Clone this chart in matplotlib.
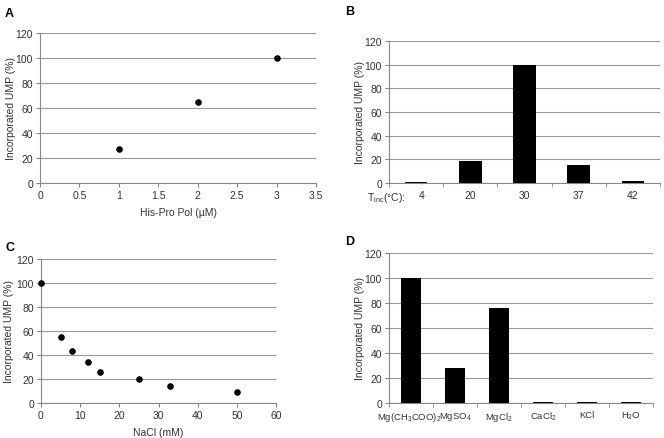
import numpy as np
import matplotlib
matplotlib.use('Agg')
import matplotlib.pyplot as plt
import matplotlib.transforms as mtransforms

plt.rcParams['font.family'] = ['Liberation Sans', 'DejaVu Sans']
plt.rcParams['font.size'] = 7.5
plt.rcParams['mathtext.fontset'] = 'custom'
plt.rcParams['mathtext.rm'] = 'Liberation Sans'

# Panel A
conc_a = [1, 2, 3]
ump_a = [27, 64.5, 100]
# Panel B
temps_b = ['4', '20', '30', '37', '42']
ump_b = [1, 19, 100, 15.5, 1.5]
# Panel C
nacl_c = [0, 5, 8, 12, 15, 25, 33, 50]
ump_c = [100, 55, 43, 34, 26, 20, 14.5, 9]
# Panel D
salts_d = [r'Mg(CH$_\mathrm{3}$COO)$_\mathrm{2}$', r'MgSO$_\mathrm{4}$', r'MgCl$_\mathrm{2}$',
           r'CaCl$_\mathrm{2}$', 'KCl', r'H$_\mathrm{2}$O']
ump_d = [100, 28, 76, 0.8, 0.8, 0.8]

W, H = 664, 439
fig = plt.figure(figsize=(W / 100, H / 100), dpi=100)
grey = '#888888'


def make_ax(l, r, t, b, ylab_x):
    ax = fig.add_axes([l / W, 1 - b / H, (r - l) / W, (b - t) / H])
    ax.set_ylim(0, 120)
    ax.set_yticks(range(0, 121, 20))
    ax.yaxis.grid(True, color='#999999', lw=0.8)
    ax.set_axisbelow(True)
    for s in ['top', 'right']:
        ax.spines[s].set_visible(False)
    for s in ['left', 'bottom']:
        ax.spines[s].set_color(grey)
        ax.spines[s].set_linewidth(0.8)
    ax.tick_params(colors=grey, labelcolor='#333333', length=3, width=0.8, pad=2)
    ax.set_ylabel('Incorporated UMP (%)', color='#333333', va='center')
    ax.yaxis.set_label_coords((ylab_x - l) / (r - l), 0.5)
    return ax


# A
ax = make_ax(40, 316, 34, 184, 11)
ax.scatter(conc_a, ump_a, s=14, color='black', zorder=3)
ax.set_xlim(0, 3.5)
ax.set_xticks(np.arange(0, 3.51, 0.5))
ax.set_xticklabels(['0', '0.5', '1', '1.5', '2', '2.5', '3', '3.5'])
ax.set_xlabel('His-Pro Pol (µM)', color='#333333', labelpad=5)

# B
ax = make_ax(389, 660, 42, 184, 360)
xb = np.arange(len(temps_b))
ax.bar(xb, ump_b, width=0.42, color='black', zorder=3)
ax.set_xlim(-0.5, len(temps_b) - 0.5)
ax.set_xticks(xb)
ax.set_xticklabels([''] + temps_b[1:])
ax.tick_params(axis='x', length=0, pad=5)
ax.set_xticks(np.arange(-0.5, len(temps_b), 1), minor=True)
ax.tick_params(axis='x', which='minor', length=3, color=grey)
ax.text(-0.55, -0.05, r'T$_\mathrm{inc}$(°C):', transform=ax.get_xaxis_transform(),
        ha='center', va='top', color='#333333')
ax.text(0.1, -0.05, temps_b[0], transform=ax.get_xaxis_transform(),
        ha='center', va='top', color='#333333')

# C
ax = make_ax(41, 276, 260, 404, 9)
ax.scatter(nacl_c, ump_c, s=14, color='black', zorder=3, clip_on=False)
ax.set_xlim(0, 60)
ax.set_xticks(range(0, 61, 10))
ax.set_xlabel('NaCl (mM)', color='#333333', labelpad=5)

# D
ax = make_ax(389, 653, 254, 404, 360)
xd = np.arange(len(salts_d))
ax.bar(xd, ump_d, width=0.44, color='black', zorder=3)
ax.set_xlim(-0.5, len(salts_d) - 0.5)
ax.set_xticks(xd)
ax.set_xticklabels(salts_d, fontsize=6.8)
ax.tick_params(axis='x', length=0, pad=5)
ax.set_xticks(np.arange(-0.5, len(salts_d), 1), minor=True)
ax.tick_params(axis='x', which='minor', length=3, color=grey)
shift = mtransforms.ScaledTranslation(-2 / 100, 0, fig.dpi_scale_trans)
first = ax.get_xticklabels()[0]
first.set_transform(first.get_transform() + shift)

for lab, x, y in [('A', 5, 14), ('B', 345, 12), ('C', 5, 248), ('D', 345, 242)]:
    fig.text(x / W, 1 - y / H, lab, fontsize=9, fontweight='bold', va='center', ha='left')

fig.savefig('out.png', dpi=100)
